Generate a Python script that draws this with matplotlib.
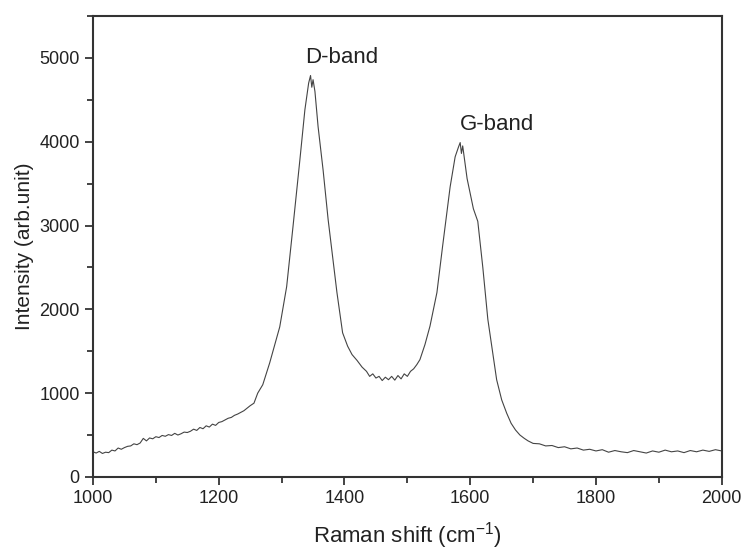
import matplotlib
matplotlib.use("Agg")
import matplotlib.pyplot as plt
from matplotlib.ticker import MultipleLocator

plt.rcParams['font.family'] = ['Liberation Sans', 'DejaVu Sans']
plt.rcParams['mathtext.default'] = 'regular'

# Raman spectrum (cm^-1, arb. unit)
shift = [1000, 1005, 1010, 1015, 1020, 1025, 1030, 1035, 1040, 1045,
         1050, 1055, 1060, 1065, 1070, 1075, 1080, 1085, 1090, 1095,
         1100, 1105, 1110, 1115, 1120, 1125, 1130, 1135, 1140, 1145,
         1150, 1155, 1160, 1165, 1170, 1175, 1180, 1185, 1190, 1195,
         1200, 1205, 1210, 1215, 1220, 1225, 1230, 1235, 1240, 1245,
         1250, 1256, 1262, 1270, 1281,
         1290, 1297, 1308, 1318, 1329, 1337, 1343, 1346, 1348, 1350,
         1353, 1358, 1366, 1374, 1388, 1397, 1405, 1412, 1420, 1428,
         1435, 1440, 1445, 1450, 1455, 1460, 1465, 1470, 1475, 1480,
         1485, 1490, 1495, 1500, 1505, 1510, 1515, 1520, 1528, 1536,
         1547, 1556, 1568, 1576, 1581, 1584, 1586, 1588, 1595, 1605,
         1612, 1620, 1628, 1642, 1650, 1658, 1665, 1672, 1679, 1686,
         1692, 1700, 1710, 1720, 1730, 1740, 1750, 1760, 1770, 1780,
         1790, 1800, 1810, 1820, 1830, 1840, 1850, 1860, 1870, 1880,
         1890, 1900, 1910, 1920, 1930, 1940, 1950, 1960, 1970, 1980,
         1990, 2000]
intensity = [300, 285, 305, 280, 295, 290, 320, 310, 345, 330,
             350, 365, 370, 395, 385, 405, 460, 430, 465, 455,
             480, 470, 495, 485, 505, 495, 520, 500, 515, 535,
             530, 545, 570, 555, 590, 575, 610, 595, 630, 615,
             650, 660, 680, 700, 710, 735, 750, 770, 790, 820,
             850, 880, 1000, 1100, 1360,
             1600, 1790, 2270, 2980, 3780, 4380, 4700, 4790, 4650, 4740,
             4600, 4180, 3660, 3070, 2200, 1720, 1560, 1460, 1390, 1310,
             1260, 1200, 1230, 1180, 1200, 1150, 1190, 1160, 1200, 1155,
             1210, 1170, 1230, 1200, 1260, 1290, 1340, 1400, 1580, 1800,
             2200, 2750, 3460, 3820, 3930, 3990, 3860, 3950, 3560, 3200,
             3050, 2500, 1880, 1160, 920, 760, 640, 560, 500, 460,
             430, 400, 395, 370, 375, 350, 360, 335, 345, 320,
             330, 310, 325, 295, 315, 300, 290, 315, 300, 285,
             310, 295, 320, 300, 310, 290, 315, 300, 320, 305,
             325, 310]

fig = plt.figure(figsize=(7.41, 5.52), dpi=100)
ax = fig.add_axes([0.1255, 0.136, 0.8485, 0.835])
ax.plot(shift, intensity, color='#444444', lw=0.8)

ax.set_xlim(1000, 2000)
ax.set_ylim(0, 5500)
ax.xaxis.set_major_locator(MultipleLocator(200))
ax.xaxis.set_minor_locator(MultipleLocator(100))
ax.yaxis.set_major_locator(MultipleLocator(1000))
ax.yaxis.set_minor_locator(MultipleLocator(500))
ax.tick_params(which='both', direction='out', top=False, right=False,
               width=1.2, labelsize=13, colors='#222222')
ax.tick_params(which='major', length=6)
ax.tick_params(which='minor', length=4)
for s in ax.spines.values():
    s.set_linewidth(1.5)
    s.set_color('#333333')

ax.set_xlabel('Raman shift (cm$^{-1}$)', fontsize=16, color='#222222', labelpad=9)
ax.set_ylabel('Intensity (arb.unit)', fontsize=15, color='#222222')

ax.text(1337, 4940, 'D-band', fontsize=16, color='#222222')
ax.text(1583, 4140, 'G-band', fontsize=16, color='#222222')

fig.savefig('out.png', dpi=100)
